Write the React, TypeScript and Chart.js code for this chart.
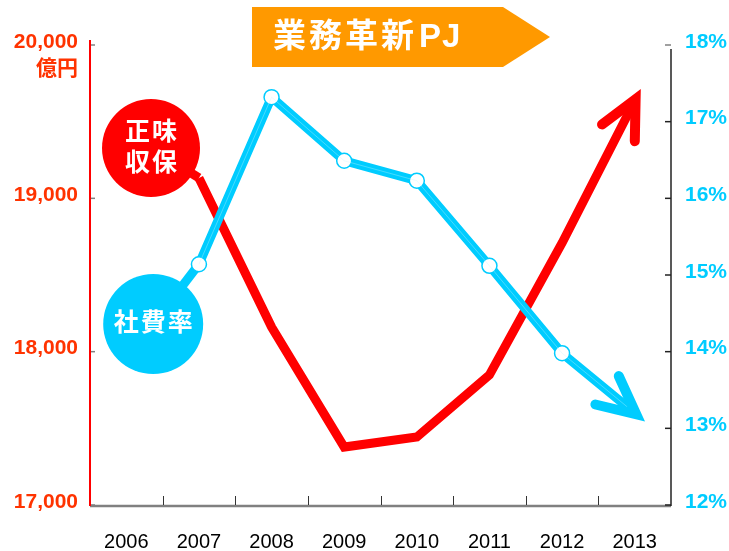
import React, { useEffect, useRef } from "react";
import { Chart, registerables } from "chart.js";

Chart.register(...registerables);

const years = ["2006", "2007", "2008", "2009", "2010", "2011", "2012", "2013"];
const premiums = [null, 19133, 18161, 17378, 17443, 17848, 18709, 19635];
const expenseRatio = [null, 15.14, 17.32, 16.49, 16.23, 15.12, 13.98, 13.2];
const cyanPointRadius = [0, 7.5, 7.5, 7.5, 7.5, 7.5, 7.5, 0];
const leftTicks = [17000, 18000, 19000, 20000];
const rightTicks = [12, 13, 14, 15, 16, 17, 18];
const bannerTextCJK = "業務革新";
const bannerTextLatin = "PJ";
const premiumLabel = ["正味", "収保"];
const expenseLabel = "社費率";
const unitLabel = "億円";
// bubble anchors in data coordinates (x index, value on own axis)
const premiumBubble = { x: 0.34, y: 19328 };
const expenseBubble = { x: 0.37, y: 14.36 };

const RED = "#FF0000";
const CYAN = "#00CCFF";
const LEFT_TXT = "#FF3300";
const FONT = "'Liberation Sans', Arial, 'Noto Sans CJK JP', sans-serif";

const decor = {
  id: "decor",
  beforeDatasetsDraw(chart: any) {
    const ctx = chart.ctx;
    const x = chart.scales.x;
    const yl = chart.scales.y;
    const yr = chart.scales.y1;
    const area = chart.chartArea;
    ctx.save();
    ctx.strokeStyle = "#808080";
    ctx.lineWidth = 2.5;
    ctx.beginPath();
    ctx.moveTo(area.left, area.bottom + 1);
    ctx.lineTo(area.right, area.bottom + 1);
    ctx.stroke();
    ctx.strokeStyle = "#333";
    ctx.lineWidth = 1;
    for (let i = 1; i < years.length; i++) {
      const px = Math.round(x.getPixelForValue(i - 0.5)) + 0.5;
      ctx.beginPath();
      ctx.moveTo(px, area.bottom);
      ctx.lineTo(px, area.bottom - 9);
      ctx.stroke();
    }
    ctx.strokeStyle = RED;
    ctx.lineWidth = 2;
    ctx.beginPath();
    ctx.moveTo(area.left, area.top - 5);
    ctx.lineTo(area.left, area.bottom + 1);
    ctx.stroke();
    ctx.strokeStyle = "#808080";
    ctx.lineWidth = 1.5;
    leftTicks.forEach((v) => {
      const py = yl.getPixelForValue(v);
      ctx.beginPath();
      ctx.moveTo(area.left + 1, py);
      ctx.lineTo(area.left + 5, py);
      ctx.stroke();
    });
    ctx.strokeStyle = "#222";
    ctx.lineWidth = 1.5;
    ctx.beginPath();
    ctx.moveTo(area.right, area.top + 4);
    ctx.lineTo(area.right, area.bottom + 1);
    ctx.stroke();
    rightTicks.forEach((v) => {
      const py = yr.getPixelForValue(v);
      ctx.strokeStyle = v === 18 ? "#808080" : "#222";
      ctx.beginPath();
      ctx.moveTo(area.right - 6, py);
      ctx.lineTo(area.right, py);
      ctx.stroke();
    });
    const redMeta = chart.getDatasetMeta(2);
    const cyanMeta = chart.getDatasetMeta(1);
    const rp = redMeta.data[1];
    const cp = cyanMeta.data[1];
    ctx.lineWidth = 9;
    ctx.lineCap = "butt";
    ctx.strokeStyle = RED;
    ctx.beginPath();
    ctx.moveTo(x.getPixelForValue(premiumBubble.x), yl.getPixelForValue(premiumBubble.y));
    ctx.lineTo(rp.x, rp.y);
    ctx.stroke();
    ctx.strokeStyle = CYAN;
    ctx.beginPath();
    ctx.moveTo(x.getPixelForValue(expenseBubble.x), yr.getPixelForValue(expenseBubble.y));
    ctx.lineTo(cp.x, cp.y);
    ctx.stroke();
    ctx.restore();
  },
  afterDatasetsDraw(chart: any) {
    const ctx = chart.ctx;
    const x = chart.scales.x;
    const yl = chart.scales.y;
    const yr = chart.scales.y1;
    ctx.save();
    const arrow = (meta: any, color: string) => {
      const n = meta.data.length;
      const a = meta.data[n - 2];
      const b = meta.data[n - 1];
      const dx = b.x - a.x;
      const dy = b.y - a.y;
      const len = Math.hypot(dx, dy);
      const ux = dx / len;
      const uy = dy / len;
      const tipX = b.x + ux * 2;
      const tipY = b.y + uy * 2;
      const back = Math.atan2(-uy, -ux);
      const ang = (26 * Math.PI) / 180;
      const L = 42;
      ctx.strokeStyle = color;
      ctx.lineWidth = 10;
      ctx.lineCap = "round";
      ctx.lineJoin = "miter";
      ctx.miterLimit = 10;
      ctx.beginPath();
      ctx.moveTo(tipX + Math.cos(back + ang) * L, tipY + Math.sin(back + ang) * L);
      ctx.lineTo(tipX, tipY);
      ctx.lineTo(tipX + Math.cos(back - ang) * L, tipY + Math.sin(back - ang) * L);
      ctx.stroke();
    };
    arrow(chart.getDatasetMeta(2), RED);
    arrow(chart.getDatasetMeta(1), CYAN);

    const rx = x.getPixelForValue(premiumBubble.x);
    const ry = yl.getPixelForValue(premiumBubble.y);
    ctx.fillStyle = RED;
    ctx.beginPath();
    ctx.arc(rx, ry, 49, 0, Math.PI * 2);
    ctx.fill();
    ctx.fillStyle = "#fff";
    ctx.font = `bold 25px ${FONT}`;
    ctx.textAlign = "center";
    ctx.textBaseline = "middle";
    (ctx as any).letterSpacing = "2px";
    ctx.fillText(premiumLabel[0], rx + 1, ry - 15);
    ctx.fillText(premiumLabel[1], rx + 1, ry + 16);

    const cx = x.getPixelForValue(expenseBubble.x);
    const cy = yr.getPixelForValue(expenseBubble.y);
    ctx.fillStyle = CYAN;
    ctx.beginPath();
    ctx.arc(cx, cy, 50, 0, Math.PI * 2);
    ctx.fill();
    ctx.fillStyle = "#fff";
    ctx.fillText(expenseLabel, cx + 1, cy);

    ctx.fillStyle = "#FF9900";
    ctx.beginPath();
    ctx.moveTo(252, 7);
    ctx.lineTo(503, 7);
    ctx.lineTo(550, 37);
    ctx.lineTo(503, 67);
    ctx.lineTo(252, 67);
    ctx.closePath();
    ctx.fill();
    ctx.fillStyle = "#fff";
    ctx.font = `bold 33px ${FONT}`;
    ctx.textAlign = "left";
    (ctx as any).letterSpacing = "3px";
    ctx.fillText(bannerTextCJK, 273, 38);
    const w = ctx.measureText(bannerTextCJK).width;
    (ctx as any).letterSpacing = "1px";
    ctx.fillText(bannerTextLatin, 273 + w + 2, 38);

    (ctx as any).letterSpacing = "0px";
    ctx.fillStyle = LEFT_TXT;
    ctx.font = `bold 21px ${FONT}`;
    ctx.textAlign = "right";
    ctx.fillText(unitLabel, 78, 69);
    ctx.restore();
  },
};

export default function App() {
  const ref = useRef<HTMLCanvasElement | null>(null);
  useEffect(() => {
    if (!ref.current) return;
    const chart = new Chart(ref.current, {
      type: "line",
      data: {
        labels: years,
        datasets: [
          {
            label: "hl",
            data: expenseRatio,
            yAxisID: "y1",
            borderColor: "rgba(200,245,255,0.35)",
            borderWidth: 1,
            pointRadius: 0,
            pointHoverRadius: 0,
          },
          {
            label: expenseLabel,
            data: expenseRatio,
            yAxisID: "y1",
            borderColor: CYAN,
            borderWidth: 9,
            pointRadius: cyanPointRadius,
            pointBackgroundColor: "#fff",
            pointBorderColor: CYAN,
            pointBorderWidth: 1.5,
            borderJoinStyle: "miter",
          },
          {
            label: "正味収保",
            data: premiums,
            yAxisID: "y",
            borderColor: RED,
            borderWidth: 9,
            pointRadius: 0,
            borderJoinStyle: "miter",
          },
        ],
      },
      options: {
        responsive: false,
        animation: false,
        events: [],
        layout: { padding: { top: 45, left: 0, right: 0, bottom: 0 } },
        plugins: { legend: { display: false }, tooltip: { enabled: false } },
        scales: {
          x: {
            offset: true,
            grid: { display: false, drawTicks: false },
            border: { display: false },
            ticks: { color: "#000", font: { family: FONT, size: 20 }, padding: 25, maxRotation: 0 },
            afterFit: (s: any) => { s.height = 46; },
          },
          y: {
            position: "left",
            min: 17000,
            max: 20000,
            afterBuildTicks: (s: any) => { s.ticks = leftTicks.map((v) => ({ value: v })); },
            grid: { display: false, drawTicks: false },
            border: { display: false },
            ticks: {
              color: LEFT_TXT,
              font: { family: FONT, size: 21, weight: "bold" },
              padding: 12,
              labelOffset: -3,
              callback: (v: any) => Number(v).toLocaleString("en-US"),
            },
            afterFit: (s: any) => { s.width = 90; },
          },
          y1: {
            position: "right",
            min: 12,
            max: 18,
            afterBuildTicks: (s: any) => { s.ticks = rightTicks.map((v) => ({ value: v })); },
            grid: { display: false, drawTicks: false },
            border: { display: false },
            ticks: {
              color: CYAN,
              font: { family: FONT, size: 21, weight: "bold" },
              padding: 14,
              labelOffset: -3,
              callback: (v: any) => `${v}%`,
            },
            afterFit: (s: any) => { s.width = 58; },
          },
        },
      },
      plugins: [decor],
    } as any);
    return () => chart.destroy();
  }, []);
  return (
    <div style={{ position: "absolute", left: 0, top: 0, width: 729, height: 551, background: "#fff" }}>
      <canvas ref={ref} width={729} height={551} style={{ display: "block" }} />
    </div>
  );
}
